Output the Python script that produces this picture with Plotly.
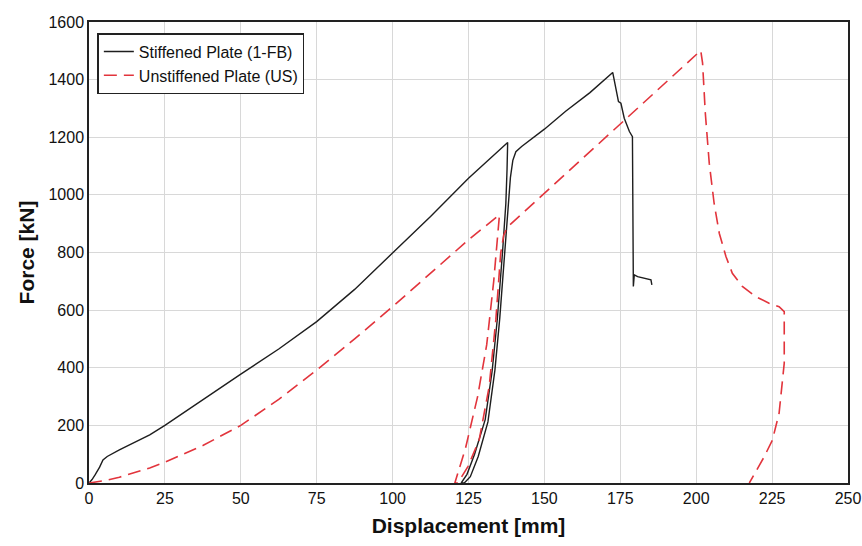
import plotly.graph_objects as go

# Stiffened Plate (1-FB)
stiff_x = [0, 1.0, 2.0, 3.5, 4.6, 6.0, 10, 15, 20, 25, 37.5, 50, 62.5, 75, 87.5, 100, 112.5, 125, 137.9,
           137.7, 137.3, 136.2, 134.5, 132.8, 130.5, 127.0, 124.5, 122.6,
           123.6, 125.6, 128.2, 131.4, 133.7, 135.3, 136.9, 138.0, 138.8, 139.6, 140.6, 142.5,
           150, 157, 165, 172.5,
           173.6, 174.4, 175.2, 176.3, 178.0, 179.0, 179.3,
           179.6, 180.7, 182.2, 183.4, 185.1, 185.4]
stiff_y = [0, 12, 28, 55, 80, 92, 115, 140, 167, 200, 290, 378, 465, 560, 672, 797, 925, 1058, 1182,
           1090, 970, 800, 570, 390, 220, 100, 30, 0,
           0, 22, 92, 212, 392, 572, 800, 950, 1060, 1120, 1150, 1168,
           1228, 1290, 1355, 1425,
           1359, 1324, 1318, 1266, 1220, 1202, 682,
           722, 716, 712, 711, 705, 688]

# Unstiffened Plate (US)
unst_x = [0, 5, 10, 15, 20, 25, 37.5, 50, 62.5, 75, 87.5, 100, 112.5, 125, 135.2,
          134.8, 133.3, 131.0, 128.0, 124.0, 120.5,
          121.5, 124.8, 128.5, 131.8, 134.0, 135.6, 136.6, 137.8,
          201.5, 202.1, 203.0, 204.3, 205.9, 207.6, 209.8, 211.9, 215.2, 219.6, 224.0, 227.3, 229.0,
          229.0, 227.3, 225.1, 222.4, 218.0, 217.5]
unst_y = [0, 8, 20, 35, 52, 72, 130, 200, 290, 392, 500, 612, 728, 844, 931,
          880, 700, 480, 300, 120, 0,
          0, 57, 149, 334, 566, 797, 860, 888,
          1501, 1457, 1284, 1110, 971, 867, 786, 728, 682, 647, 624, 612, 595,
          416, 242, 149, 91, 5, 0]

x_ticks = [0, 25, 50, 75, 100, 125, 150, 175, 200, 225, 250]
y_ticks = [0, 200, 400, 600, 800, 1000, 1200, 1400, 1600]

fig = go.Figure()
fig.add_trace(go.Scatter(x=stiff_x, y=stiff_y, mode="lines", name="Stiffened Plate (1-FB)",
                         line=dict(color="#1e1e1e", width=1.4)))
fig.add_trace(go.Scatter(x=unst_x, y=unst_y, mode="lines", name="Unstiffened Plate (US)",
                         line=dict(color="#e2343c", width=1.6, dash="13px,7px")))

fig.update_layout(
    width=862, height=546,
    margin=dict(l=89, r=14, t=22, b=63),
    paper_bgcolor="white", plot_bgcolor="white",
    font=dict(family="Liberation Sans, Arial, sans-serif", color="#111"),
    showlegend=True,
    legend=dict(x=0.011, y=0.976, xanchor="left", yanchor="top",
                bgcolor="white", bordercolor="#222", borderwidth=1.5,
                font=dict(size=16, family="Liberation Sans, Arial, sans-serif", color="#111"),
                tracegroupgap=0, itemwidth=30),
    xaxis=dict(range=[0, 250], tickvals=x_ticks, ticktext=[str(v) for v in x_ticks],
               showgrid=True, gridcolor="#d8d8d8", gridwidth=1,
               showline=True, linecolor="#222", linewidth=1.5, mirror=True,
               ticks="", zeroline=False, automargin=False,
               tickfont=dict(size=16, family="Liberation Sans Narrow, Liberation Sans, Arial", color="#111"),
               title=dict(text="<b>Displacement [mm]</b>", standoff=12,
                          font=dict(size=21, family="Liberation Sans, Arial", color="#111"))),
    yaxis=dict(range=[0, 1600], tickvals=y_ticks, ticktext=[str(v) for v in y_ticks],
               showgrid=True, gridcolor="#d8d8d8", gridwidth=1,
               showline=True, linecolor="#222", linewidth=1.5, mirror=True,
               ticks="", zeroline=False, automargin=False,
               tickfont=dict(size=16, color="#111"),
               title=dict(text="<b>Force [kN]</b>", standoff=8,
                          font=dict(size=21, color="#111"))),
)

fig.write_html("out.html")
